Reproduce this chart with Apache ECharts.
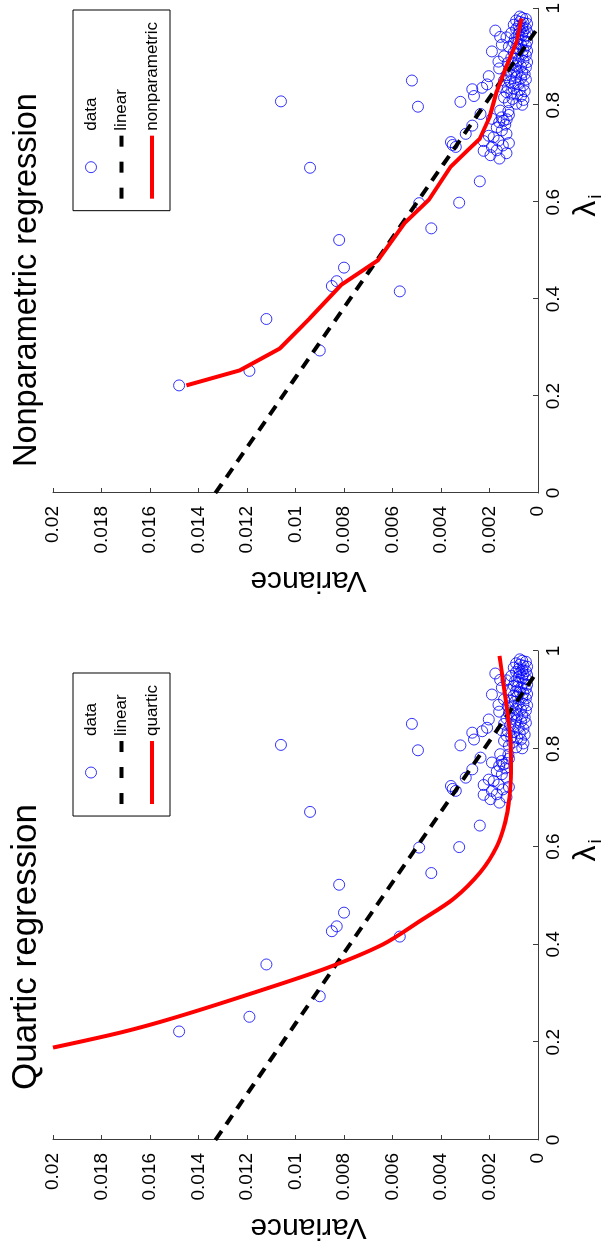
<!DOCTYPE html>
<html>
<head>
<meta charset="utf-8">
<script src="https://cdn.jsdelivr.net/npm/echarts@6/dist/echarts.min.js"></script>
<style>
html,body{margin:0;padding:0;width:610px;height:1243px;overflow:hidden;background:#fff}
#wrap{position:absolute;left:0;top:0;width:1243px;height:610px;transform-origin:0 0;transform:translate(0,1243px) rotate(-90deg);}
#chart{width:1243px;height:610px}
</style>
</head>
<body>
<div id="wrap"><div id="chart"></div></div>
<script>
// ---- data ----
const dataLambda = [
  0.222,0.252,0.359,0.294,0.427,0.522,0.465,0.437,0.416,0.546,0.598,0.599,0.643,0.671,0.808,0.851,0.797,0.807,
  0.724,0.714,0.718,0.741,0.758,0.782,0.833,0.819,0.836,0.843,0.860,0.911,0.954,0.941,0.925,0.890,
  0.690,0.697,0.707,0.706,0.714,0.717,0.727,0.726,0.734,0.737,0.741,0.748,0.754,0.760,0.765,0.768,0.771,0.772,0.775,0.780,0.788,0.789,0.701,0.722,
  0.801,0.803,0.806,0.811,0.813,0.816,0.819,0.822,0.824,0.827,0.829,0.832,0.834,0.836,0.838,0.841,0.843,0.846,0.848,0.851,0.853,
  0.856,0.858,0.861,0.862,0.864,0.867,0.869,0.871,0.873,0.876,0.878,0.880,0.882,0.885,0.887,0.889,0.891,0.893,0.896,0.898,
  0.901,0.903,0.905,0.907,0.909,0.912,0.914,0.916,0.918,0.921,0.923,0.925,0.927,0.929,0.931,0.934,0.936,0.938,0.940,0.943,
  0.945,0.947,0.949,0.951,0.953,0.955,0.957,0.959,0.961,0.963,0.966,0.968,0.970,0.972,0.975,0.978,0.980,0.983
];
const dataVariance = [
  0.0148,0.0119,0.0112,0.0090,0.0085,0.0082,0.0080,0.0083,0.0057,0.0044,0.0049,0.00325,0.0024,0.0094,0.0106,0.0052,0.00495,0.0032,
  0.00359,0.00339,0.00352,0.00298,0.00271,0.00237,0.00271,0.00264,0.0023,0.0021,0.00203,0.0019,0.00176,0.00156,0.00149,0.00163,
  0.00159,0.00196,0.0017,0.00224,0.0019,0.00145,0.00163,0.00224,0.00183,0.00203,0.0013,0.00149,0.0017,0.00135,0.0016,0.00142,0.00129,0.0019,0.0015,0.0012,0.00122,0.00156,0.0013,0.0012,
  0.00065,0.0009,0.0012,0.0006,0.00105,0.0014,0.0007,0.00085,0.0011,0.0013,0.00055,0.00075,0.001,0.00125,0.0015,0.0006,0.0008,0.00095,0.00115,0.0014,0.0005,
  0.0007,0.0009,0.0011,0.0013,0.00055,0.00065,0.00085,0.001,0.0012,0.0016,0.0005,0.0007,0.0009,0.00105,0.00125,0.00045,0.0006,0.0008,0.00095,0.0011,
  0.0014,0.0005,0.00065,0.00085,0.001,0.00045,0.0006,0.00075,0.0009,0.0012,0.0005,0.0007,0.00085,0.001,0.00045,0.0006,0.0008,0.00095,0.0013,0.0005,
  0.00065,0.0008,0.0011,0.00045,0.0006,0.00075,0.0009,0.0005,0.00065,0.0008,0.001,0.00045,0.0006,0.00075,0.0009,0.0005,0.00065,0.00075
];
const linearLambda = [0, 0.96];
const linearVariance = [0.0133, 0];
const quarticLambda = [0.189,0.22,0.25,0.30,0.35,0.40,0.45,0.494,0.548,0.60,0.65,0.70,0.75,0.80,0.85,0.90,0.95,0.99];
const quarticVariance = [0.020,0.0172,0.0150,0.0118,0.0088,0.0064,0.0048,0.00346,0.00237,0.0017,0.00135,0.00118,0.00111,0.00112,0.0012,0.00133,0.00147,0.00159];
const nonparLambda = [0.222,0.253,0.298,0.361,0.43,0.48,0.557,0.605,0.673,0.707,0.731,0.775,0.829,0.88,0.931,0.979];
const nonparVariance = [0.0145,0.0123,0.01065,0.0094,0.0081,0.0066,0.0055,0.0045,0.0036,0.0029,0.0024,0.0020,0.0017,0.0013,0.00088,0.00068];

const zip = (a, b) => a.map((x, i) => [x, b[i]]);
const FONT = '"Liberation Sans", Arial, Helvetica, sans-serif';
const AXC = '#3c3c3c';
const DASH_ICON = 'path://M0,0h11v4h-11z M26,0h11v4h-11z M52,0h11v4h-11z';
const SOLID_ICON = 'path://M0,0h63v4h-63z';

function xAx(g) {
  return {
    gridIndex: g, type: 'value', min: 0, max: 1, interval: 0.2,
    name: '{a|λ}{b|i}', nameLocation: 'middle', nameGap: 30,
    nameTextStyle: { padding: [0, 0, 0, 90], rich: {
      a: { fontSize: 32, fontFamily: FONT, color: '#000' },
      b: { fontSize: 19, fontFamily: FONT, color: '#000', padding: [18, 0, 0, 2] } } },
    axisLine: { lineStyle: { color: AXC, width: 1 } },
    axisTick: { inside: true, length: 5, lineStyle: { color: AXC } },
    axisLabel: { color: '#000', fontSize: 19, fontFamily: FONT, margin: 6 },
    splitLine: { show: false }
  };
}
function yAx(g) {
  return {
    gridIndex: g, type: 'value', min: 0, max: 0.02, interval: 0.002,
    name: 'Variance', nameLocation: 'middle', nameGap: 72,
    nameTextStyle: { fontSize: 30, fontFamily: FONT, color: '#000', padding: [0, 26, 0, 0] },
    axisLine: { show: true, lineStyle: { color: AXC, width: 1 } },
    axisTick: { show: true, inside: true, length: 5, lineStyle: { color: AXC } },
    axisLabel: { color: '#000', fontSize: 19, fontFamily: FONT, margin: 13 },
    splitLine: { show: false }
  };
}
function legendCfg(right, third) {
  return {
    orient: 'vertical', right: right, top: 73,
    data: [
      { name: 'data', icon: 'circle', itemStyle: { borderWidth: 1 } },
      { name: 'linear', icon: DASH_ICON },
      { name: third, icon: SOLID_ICON }
    ],
    padding: [9.5, 12, 9.5, 12], itemWidth: 63, itemHeight: 11, itemGap: 13.5,
    symbolKeepAspect: true,
    borderColor: '#000', borderWidth: 1, backgroundColor: '#fff',
    textStyle: { fontSize: 17, fontFamily: FONT, color: '#000' }
  };
}
function scatterS(g) {
  return { name: 'data', type: 'scatter', xAxisIndex: g, yAxisIndex: g,
    symbol: 'circle', symbolSize: 11,
    itemStyle: { color: 'rgba(0,0,0,0)', borderColor: '#0000ff', borderWidth: 1 },
    data: zip(dataLambda, dataVariance) };
}
function linearS(g) {
  return { name: 'linear', type: 'line', xAxisIndex: g, yAxisIndex: g, symbol: 'none',
    itemStyle: { color: '#000' },
    lineStyle: { color: '#000', width: 4, type: [11, 8] },
    data: zip(linearLambda, linearVariance) };
}
function redS(g, name, lam, v, smooth) {
  return { name: name, type: 'line', xAxisIndex: g, yAxisIndex: g, symbol: 'none', smooth: smooth,
    itemStyle: { color: '#ff0000' },
    lineStyle: { color: '#ff0000', width: 4, join: 'round' },
    data: zip(lam, v) };
}

const chart = echarts.init(document.getElementById('chart'), null, { renderer: 'canvas' });
chart.setOption({
  animation: false,
  backgroundColor: '#fff',
  grid: [
    { left: 100, top: 53, width: 492, height: 492 },
    { left: 750, top: 53, width: 490, height: 492 }
  ],
  xAxis: [xAx(0), xAx(1)],
  yAxis: [yAx(0), yAx(1)],
  legend: [
    legendCfg(673, 'quartic'),
    legendCfg(10, 'nonparametric')
  ],
  graphic: [
    { type: 'text', left: 298 - 145, top: 9, style: { text: 'Quartic regression', font: '35px ' + FONT, fill: '#000' } },
    { type: 'text', left: 776, top: 11, style: { text: 'Nonparametric regression', font: '32.5px ' + FONT, fill: '#000' } }
  ],
  series: [
    scatterS(0), linearS(0), redS(0, 'quartic', quarticLambda, quarticVariance, 0.3),
    scatterS(1), linearS(1), redS(1, 'nonparametric', nonparLambda, nonparVariance, false)
  ]
});
</script>
</body>
</html>
